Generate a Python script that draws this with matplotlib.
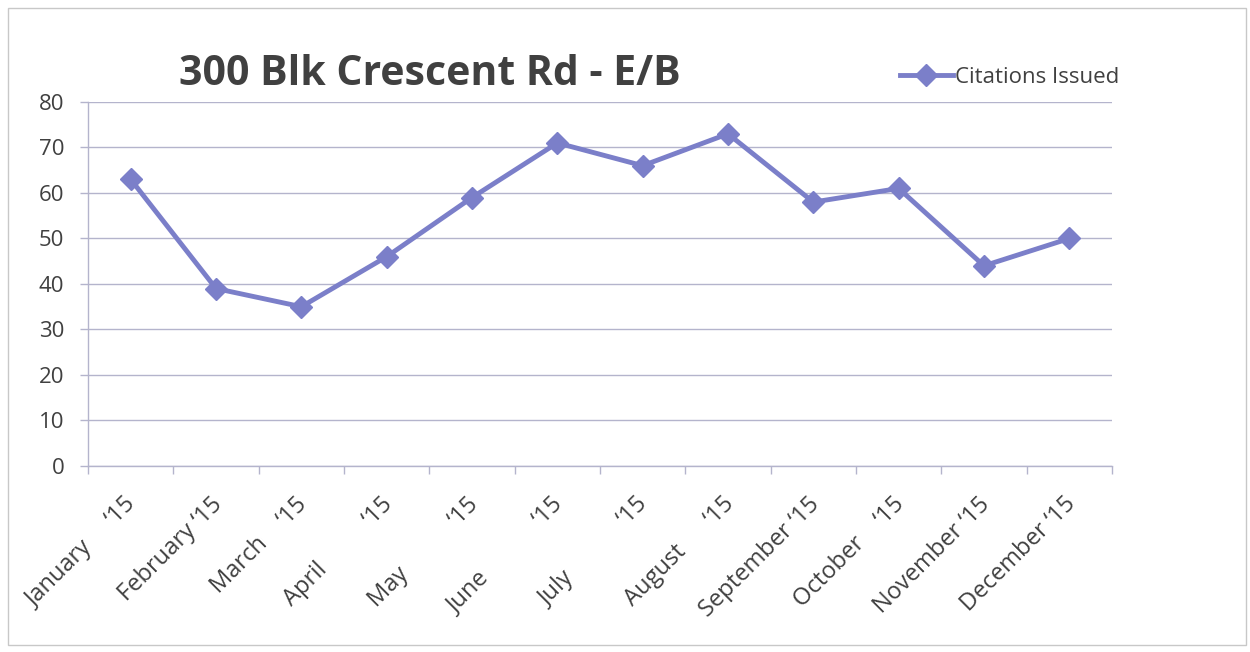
import matplotlib.pyplot as plt
from matplotlib.patches import Rectangle
from matplotlib.transforms import ScaledTranslation

months = ["January", "February", "March", "April", "May", "June",
          "July", "August", "September", "October", "November", "December"]
# extra spaces copied from the original padded labels
gaps = [5, 1, 4, 10, 11, 12, 12, 6, 1, 4, 1, 1]
citations = [63, 39, 35, 46, 59, 71, 66, 73, 58, 61, 44, 50]
y_ticks = [0, 10, 20, 30, 40, 50, 60, 70, 80]

title = "300 Blk Crescent Rd - E/B"
series_name = "Citations Issued"

line_color = "#7b7fc9"
grid_color = "#b4b4cc"
text_color = "#404040"

plt.rcParams["font.family"] = ["Open Sans", "DejaVu Sans"]

fig = plt.figure(figsize=(12.5, 6.52), dpi=100)
ax = fig.add_axes([0.0704, 0.2853, 0.8192, 0.5583])

x = list(range(len(months)))
ax.plot(x, citations, color=line_color, linewidth=3.5, marker="D",
        markersize=11, label=series_name)

ax.set_xlim(-0.5, len(months) - 0.5)
ax.set_ylim(0, 80)
ax.set_yticks(y_ticks)
ax.grid(axis="y", color=grid_color, linewidth=1)
ax.set_axisbelow(True)

labels = [m + " " * g + "\u201815" for m, g in zip(months, gaps)]
ax.set_xticks(x)
ax.set_xticklabels(labels, rotation=45, ha="right", rotation_mode="anchor",
                   fontsize=17, color=text_color)
ax.tick_params(axis="x", length=0, pad=19)
shift = ScaledTranslation(-0.06, 0, fig.dpi_scale_trans)
for lab in ax.get_xticklabels():
    lab.set_transform(lab.get_transform() + shift)
# category boundary ticks
ax.set_xticks([i - 0.5 for i in range(len(months) + 1)], minor=True)
ax.tick_params(axis="x", which="minor", length=6, color=grid_color, width=1)
ax.tick_params(axis="y", length=6, color=grid_color, width=1,
               labelsize=16, labelcolor=text_color, pad=11)

for side in ["top", "right"]:
    ax.spines[side].set_visible(False)
for side in ["left", "bottom"]:
    ax.spines[side].set_color(grid_color)
    ax.spines[side].set_linewidth(1)

fig.text(0.344, 0.885, title, ha="center", va="center", fontsize=29.5,
         fontweight="bold", color=text_color)

ax.legend(loc="center left", bbox_to_anchor=(0.784, 1.067), frameon=False,
          fontsize=16, handlelength=2.4, handletextpad=0.1,
          labelcolor=text_color, borderaxespad=0)

fig.patches.append(Rectangle((0.0064, 0.0107), 0.99, 0.977, transform=fig.transFigure,
                             fill=False, edgecolor="#c8c8c8", linewidth=1))

fig.savefig("out.png", dpi=100, facecolor="white")
